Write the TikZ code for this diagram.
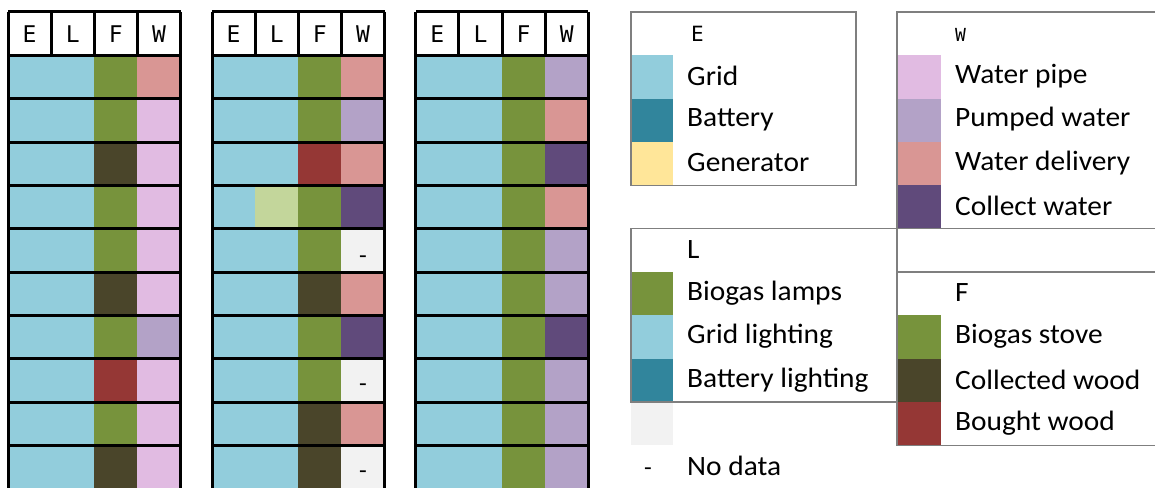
\documentclass[tikz,border=0pt]{standalone}
\usepackage{fontspec}
\setmainfont{Carlito}[FakeStretch=1.05]
\newfontfamily\monof{DejaVu Sans Mono}
\definecolor{cgrid}{HTML}{92CDDC}
\definecolor{cbatt}{HTML}{31859C}
\definecolor{cgen}{HTML}{FFE699}
\definecolor{cgreen}{HTML}{77933C}
\definecolor{clgreen}{HTML}{C3D69B}
\definecolor{cbrown}{HTML}{4A452A}
\definecolor{cred}{HTML}{953735}
\definecolor{cpipe}{HTML}{E1BBE2}
\definecolor{cpump}{HTML}{B3A2C7}
\definecolor{cdeliv}{HTML}{D99694}
\definecolor{ccoll}{HTML}{604A7B}
\definecolor{cnd}{HTML}{F2F2F2}
\definecolor{lgray}{HTML}{7F7F7F}
\tikzset{
  tline/.style={line width=3pt, black},
  lline/.style={line width=1.5pt, lgray},
  hdr/.style={font=\monof\fontsize{23}{23}\selectfont, inner sep=0pt},
  lab/.style={font=\fontsize{28}{28}\selectfont, anchor=west, inner sep=0pt},
  dashlab/.style={font=\fontsize{24}{24}\selectfont, inner sep=0pt, anchor=base},
}
\newcommand\mktable[3]{%
  \foreach \ce/\cl/\cf/\cw [count=\i] in {#3}{%
    \pgfmathsetmacro\yt{12+\i*43.333}%
    \fill[\ce] (#1,\yt) rectangle ++(43.125,43.333);
    \fill[\cl] (#1+43.125,\yt) rectangle ++(43.125,43.333);
    \fill[\cf] (#1+86.25,\yt) rectangle ++(43.125,43.333);
    \fill[\cw] (#1+129.375,\yt) rectangle ++(43.125,43.333);
  }
  \foreach \k in {0,...,10}{\draw[tline] (#1,12+\k*43.333) -- (#1+172.5,12+\k*43.333);}
  \draw[tline] (#1,12) -- (#1,520);
  \draw[tline] (#1+172.5,12) -- (#1+172.5,520);
  \foreach \j in {1,2,3}{\draw[tline] (#1+\j*43.125,12) -- (#1+\j*43.125,55.333);}
  \foreach \h [count=\j] in {E,L,F,W}{\node[hdr] (#2h\h) at (#1+\j*43.125-21.56,33.67) {\h};}
}
\begin{document}
\begin{tikzpicture}[x=1pt,y=-1pt]
\useasboundingbox (0,0) rectangle (1155,487);
\clip (0,0) rectangle (1155,487);
% tables
\mktable{8}{ta}{cgrid/cgrid/cgreen/cdeliv, cgrid/cgrid/cgreen/cpipe, cgrid/cgrid/cbrown/cpipe, cgrid/cgrid/cgreen/cpipe, cgrid/cgrid/cgreen/cpipe, cgrid/cgrid/cbrown/cpipe, cgrid/cgrid/cgreen/cpump, cgrid/cgrid/cred/cpipe, cgrid/cgrid/cgreen/cpipe, cgrid/cgrid/cbrown/cpipe}
\mktable{212}{tb}{cgrid/cgrid/cgreen/cdeliv, cgrid/cgrid/cgreen/cpump, cgrid/cgrid/cred/cdeliv, cgrid/clgreen/cgreen/ccoll, cgrid/cgrid/cgreen/cnd, cgrid/cgrid/cbrown/cdeliv, cgrid/cgrid/cgreen/ccoll, cgrid/cgrid/cgreen/cnd, cgrid/cgrid/cbrown/cdeliv, cgrid/cgrid/cbrown/cnd}
\mktable{415.8}{tc}{cgrid/cgrid/cgreen/cpump, cgrid/cgrid/cgreen/cdeliv, cgrid/cgrid/cgreen/ccoll, cgrid/cgrid/cgreen/cdeliv, cgrid/cgrid/cgreen/cpump, cgrid/cgrid/cgreen/cpump, cgrid/cgrid/cgreen/ccoll, cgrid/cgrid/cgreen/cpump, cgrid/cgrid/cgreen/cpump, cgrid/cgrid/cgreen/cpump}
\node[dashlab] (nd5) at (363,263) {-};
\node[dashlab] (nd8) at (363,391) {-};
\node[dashlab] (nd10) at (363,478) {-};
% legend swatches
\fill[cgrid] (631.7,55.333) rectangle (673,98.667);
\fill[cbatt] (631.7,98.667) rectangle (673,142);
\fill[cgen] (631.7,142) rectangle (673,185.333);
\fill[cpipe] (897.8,55.333) rectangle (941,98.667);
\fill[cpump] (897.8,98.667) rectangle (941,142);
\fill[cdeliv] (897.8,142) rectangle (941,185.333);
\fill[ccoll] (897.8,185.333) rectangle (941,228.667);
\fill[cgreen] (631.7,272) rectangle (673,315.333);
\fill[cgrid] (631.7,315.333) rectangle (673,358.667);
\fill[cbatt] (631.7,358.667) rectangle (673,402);
\fill[cnd] (631,402) rectangle (673,445.333);
\fill[cgreen] (897.8,315.333) rectangle (941,358.667);
\fill[cbrown] (897.8,358.667) rectangle (941,402);
\fill[cred] (897.8,402) rectangle (941,445.333);
% legend boxes
\draw[lline] (631,12) rectangle (856,185.333);
\draw[lline] (1170,12) -- (897,12) -- (897,228.667) -- (1170,228.667);
\draw[lline] (631,228.667) rectangle (897,402);
\draw[lline] (1170,272) -- (897,272) -- (897,445.333) -- (1170,445.333);
% legend texts
\node[hdr, anchor=west, font=\monof\fontsize{21}{21}\selectfont] (lgE) at (691,34) {E};
\node[hdr, anchor=west, font=\monof\fontsize{18}{18}\selectfont] (lgW) at (955,35) {W};
\node[lab] (lgrid) at (687,76) {Grid};
\node[lab] (lbatt) at (687,119.5) {Battery};
\node[lab] (lgen) at (687,163) {Generator};
\node[lab] (lpipe) at (955,76) {Water pipe};
\node[lab] (lpump) at (955,119.5) {Pumped water};
\node[lab] (ldeliv) at (955,163) {Water delivery};
\node[lab] (lcoll) at (955,206) {Collect water};
\node[lab] (lgL) at (687,250) {L};
\node[lab] (llamp) at (687,293) {Biogas lamps};
\node[lab] (lglight) at (687,336.5) {Grid lighting};
\node[lab] (lblight) at (687,380) {Battery lighting};
\node[lab] (lgF) at (955,293) {F};
\node[lab] (lstove) at (955,336.5) {Biogas stove};
\node[lab] (lcwood) at (955,380) {Collected wood};
\node[lab] (lbwood) at (955,423) {Bought wood};
\node[dashlab] (lnddash) at (648,475) {-};
\node[lab] (lnd) at (687,466) {No data};
\end{tikzpicture}
\end{document}
